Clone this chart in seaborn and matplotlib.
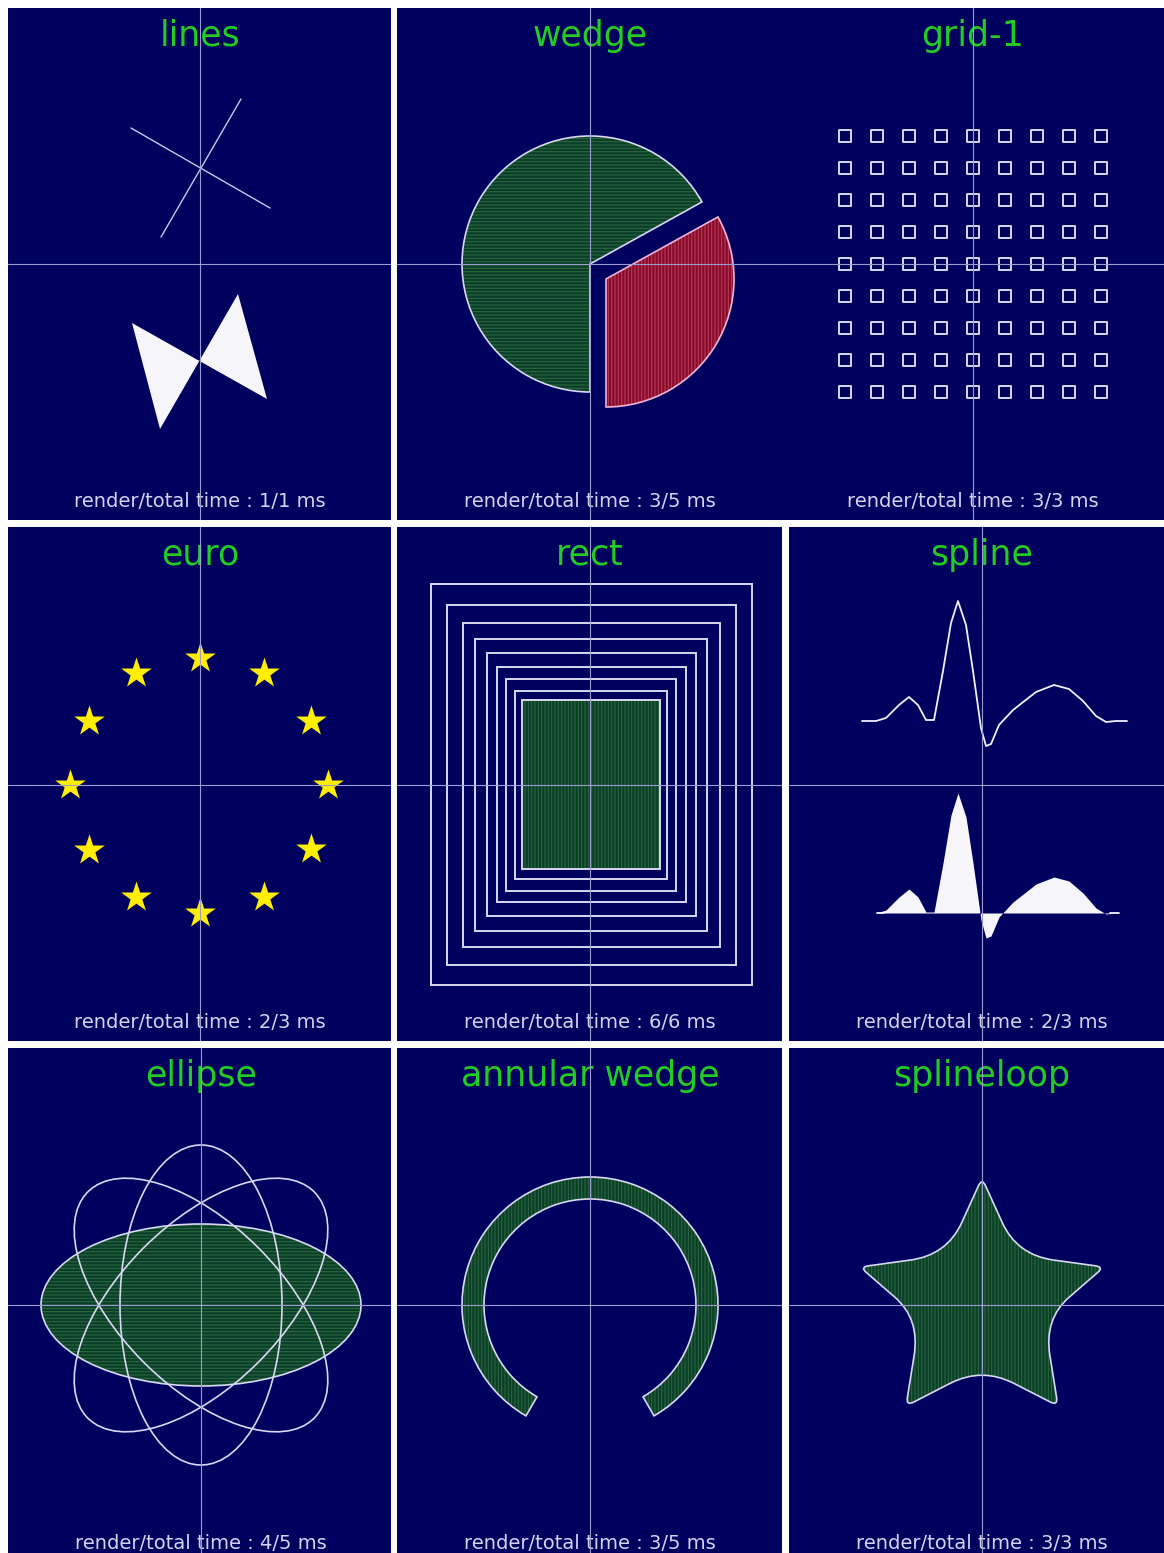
import numpy as np
import matplotlib
matplotlib.use("Agg")
import matplotlib.pyplot as plt
import seaborn as sns
from matplotlib.patches import Wedge, Rectangle, Ellipse, Polygon, PathPatch
from matplotlib.path import Path

sns.set_theme(style="white")
plt.rcParams["font.family"] = ["DejaVu Sans"]
plt.rcParams["hatch.linewidth"] = 0.7

# ---------------- data (pixel offsets from each panel's crosshair, y up) -------------
titles = ["lines", "wedge", "grid-1", "euro", "rect", "spline",
          "ellipse", "annular wedge", "splineloop"]
render_ms = [1, 3, 3, 2, 6, 2, 4, 3, 3]
total_ms = [1, 5, 3, 3, 6, 3, 5, 5, 3]

# lines
line1_x = [-69, 70]
line1_y = [136, 56]
line2_x = [41, -39]
line2_y = [165, 27]
bowtie_x = [-68, 67, 38, -40]
bowtie_y = [-59, -135, -30, -165]

# wedge
pie_radius = 128
green_wedge_deg = [29, 270]
red_wedge_deg = [-90, 29]
red_wedge_shift = [16, -15]

# grid-1
grid_cols = [-128, -96, -64, -32, 0, 32, 64, 96, 128]
grid_rows = [128, 96, 64, 32, 0, -32, -64, -96, -128]

# euro stars
star_x = [0, 64, 111, 128, 111, 64, 0, -64, -111, -130, -111, -64]
star_y = [127, 112, 64, 0, -64, -112, -128, -112, -65, 0, 64, 112]

# rect (nested, outer -> inner)
rect_w = [321, 289, 257, 232, 209, 189, 170, 152, 138]
rect_h = [401, 360, 324, 292, 263, 235, 212, 188, 169]

# spline (x offset, height above its baseline)
spline_x = [-120, -106, -96, -83, -73, -64, -56, -48, -39, -31, -24, -16, -9,
            -1, 4, 9, 17, 31, 54, 72, 87, 101, 114, 124, 134, 145]
spline_h = [0, 0, 3, 16, 24, 16, 1, 1, 50, 98, 120, 96, 50,
            -7, -25, -23, -4, 11, 29, 36, 32, 20, 5, -1, 0, 0]
spline_top_base = 64
spline_low_base = -128
dash_x = [[-105, -98], [128, 137]]

# ellipse
ell_w, ell_h = 320, 162
ell_angles = [45, 90, 135]

# annular wedge
ring_outer, ring_width = 128, 22
ring_deg = [-60, 240]

# splineloop star vertices (tips and valleys) and corner rounding
loop_x = [0, 35, 122, 62, 76, 0, -76, -62, -122, -35]
loop_y = [127, 50, 38, -14, -101, -62, -101, -14, 38, 50]
loop_round = [0.10, 0.42, 0.10, 0.42, 0.10, 0.42, 0.10, 0.42, 0.10, 0.42]

# ---------------- layout (pixels) ----------------
W, H = 1164, 1553
# x0, x1, y0, y1, cx, cy
boxes = [
    (8, 391, 8, 520, 200, 264), (397, 781, 8, 520, 590, 264), (781, 1164, 8, 520, 973, 264),
    (8, 391, 527, 1041, 200, 785), (397, 782, 527, 1041, 590, 785), (789, 1164, 527, 1041, 982, 785),
    (8, 391, 1048, 1553, 201, 1305), (397, 782, 1048, 1553, 590, 1305), (789, 1164, 1048, 1553, 982, 1305),
]
foot_gap = [13, 13, 13, 13, 13, 13, 4, 4, 4]

NAVY = "#00005f"
EDGE = "#d8d8f2"
G_FACE, G_HATCH = "#0b3f2a", "#2e6c3e"
R_FACE, R_HATCH, R_EDGE = "#8a0a2c", "#b8405c", "#f0b4d4"
TITLE = "#22cc22"
FOOT = "#d4d4f2"
CROSS = "#9c9cd0"

fig = plt.figure(figsize=(W / 100, H / 100), dpi=100, facecolor="white")
axes = []
for i, (x0, x1, y0, y1, cx, cy) in enumerate(boxes):
    ax = fig.add_axes([x0 / W, 1 - y1 / H, (x1 - x0) / W, (y1 - y0) / H])
    ax.set_facecolor(NAVY)
    ax.set_xlim(x0 - cx, x1 - cx)
    ax.set_ylim(cy - y1, cy - y0)
    ax.set_xticks([]); ax.set_yticks([])
    for sp in ax.spines.values():
        sp.set_visible(False)
    ax.axhline(0, color=CROSS, lw=0.8, zorder=10)
    ax.axvline(0, color=CROSS, lw=0.8, zorder=10)
    ax.text(0, cy - y0 - 38, titles[i], ha="center", va="baseline",
            color=TITLE, fontsize=25, zorder=8)
    ax.text(0, cy - y1 + foot_gap[i], f"render/total time : {render_ms[i]}/{total_ms[i]} ms",
            ha="center", va="baseline", color=FOOT, fontsize=14, zorder=8)
    axes.append(ax)


def filled(ax, patch_cls, *args, face, hatch_col, hatch, edge, lw=1.2, **kw):
    ax.add_patch(patch_cls(*args, facecolor=face, edgecolor=hatch_col, hatch=hatch, lw=0, zorder=2, **kw))
    ax.add_patch(patch_cls(*args, fill=False, edgecolor=edge, lw=lw, zorder=3, **kw))


# lines
ax = axes[0]
sns.lineplot(x=line1_x, y=line1_y, ax=ax, color="#c8c8ee", lw=1.0, sort=False, estimator=None)
sns.lineplot(x=line2_x, y=line2_y, ax=ax, color="#c8c8ee", lw=1.0, sort=False, estimator=None)
ax.add_patch(Polygon(np.column_stack([bowtie_x, bowtie_y]), closed=True,
                     facecolor="#f6f6fa", edgecolor="none", zorder=2))

# wedge
ax = axes[1]
filled(ax, Wedge, (0, 0), pie_radius, green_wedge_deg[0], green_wedge_deg[1],
       face=G_FACE, hatch_col=G_HATCH, hatch="-----", edge=EDGE)
filled(ax, Wedge, tuple(red_wedge_shift), pie_radius, red_wedge_deg[0], red_wedge_deg[1],
       face=R_FACE, hatch_col=R_HATCH, hatch="|||||", edge=R_EDGE)

# grid-1
ax = axes[2]
gx = [c for r in grid_rows for c in grid_cols]
gy = [r for r in grid_rows for c in grid_cols]
sns.scatterplot(x=gx, y=gy, ax=ax, marker="s", s=72, color=EDGE, linewidth=1.4, zorder=3)
ax.collections[-1].set_facecolor("none")
ax.collections[-1].set_edgecolor(EDGE)

# euro
ax = axes[3]
sns.scatterplot(x=star_x, y=star_y, ax=ax, marker="*", s=540, color="#ffee00",
                linewidth=0, zorder=3)

# rect
ax = axes[4]
for k, (w, h) in enumerate(zip(rect_w, rect_h)):
    if k == len(rect_w) - 1:
        filled(ax, Rectangle, (1 - w / 2, -h / 2), w, h,
               face=G_FACE, hatch_col=G_HATCH, hatch="|||||", edge=EDGE, lw=1.4)
    else:
        ax.add_patch(Rectangle((1 - w / 2, -h / 2), w, h, fill=False,
                               edgecolor=EDGE, lw=1.4, zorder=3))

# spline
ax = axes[5]
sx = np.array(spline_x, float)
sh = np.array(spline_h, float)
sns.lineplot(x=sx, y=sh + spline_top_base, ax=ax, color="#f0f0ff", lw=1.3,
             sort=False, estimator=None)
ax.fill_between(sx, spline_low_base, sh + spline_low_base, color="#f6f6fa", lw=0, zorder=2)
for dx in dash_x:
    sns.lineplot(x=dx, y=[spline_low_base, spline_low_base], ax=ax, color="#f6f6fa",
                 lw=1.3, sort=False, estimator=None)

# ellipse
ax = axes[6]
filled(ax, Ellipse, (0, 0), ell_w, ell_h, face=G_FACE, hatch_col=G_HATCH,
       hatch="-----", edge=EDGE)
for a in ell_angles:
    ax.add_patch(Ellipse((0, 0), ell_w, ell_h, angle=a, fill=False,
                         edgecolor=EDGE, lw=1.2, zorder=4))

# annular wedge
ax = axes[7]
filled(ax, Wedge, (0, 0), ring_outer, ring_deg[0], ring_deg[1], width=ring_width,
       face=G_FACE, hatch_col=G_HATCH, hatch="|||||", edge=EDGE)

# splineloop: star polygon with rounded corners (quadratic curves at each vertex)
ax = axes[8]
P = np.column_stack([loop_x, loop_y]).astype(float)
n = len(P)
verts, codes = [], []
for i in range(n + 1):
    j = i % n
    p0, p1, p2 = P[j - 1], P[j], P[(j + 1) % n]
    t = loop_round[j]
    a = p1 + (p0 - p1) * t
    b = p1 + (p2 - p1) * t
    if i == 0:
        verts.append(b); codes.append(Path.MOVETO)
        continue
    verts += [a, p1, b]
    codes += [Path.LINETO, Path.CURVE3, Path.CURVE3]
verts.append(verts[0]); codes.append(Path.CLOSEPOLY)
star_path = Path(verts, codes)
ax.add_patch(PathPatch(star_path, facecolor=G_FACE, edgecolor=G_HATCH, hatch="|||||", lw=0, zorder=2))
ax.add_patch(PathPatch(star_path, fill=False, edgecolor=EDGE, lw=1.2, zorder=3))

for ax in axes:
    if ax.get_legend() is not None:
        ax.get_legend().remove()

fig.savefig("out.png", dpi=100, facecolor="white")
